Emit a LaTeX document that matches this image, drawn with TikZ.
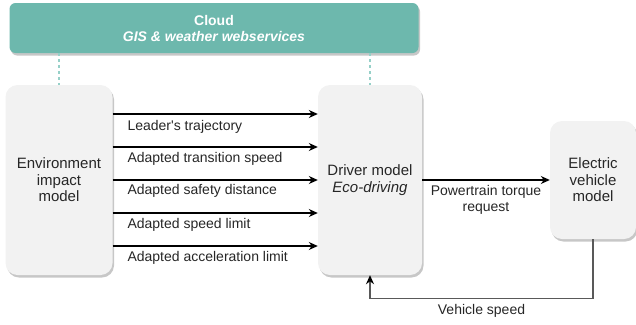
\documentclass[tikz,border=0pt]{standalone}
\usepackage{fontspec}
\setmainfont{Liberation Sans}[Ligatures=TeXOff]
\usetikzlibrary{positioning,arrows.meta,shadows}
\definecolor{cloudteal}{HTML}{6DB8AD}
\definecolor{dashteal}{HTML}{96D0C8}
\definecolor{boxgray}{HTML}{F2F2F2}

\begin{document}
\begin{tikzpicture}[
    x=1pt, y=-1pt,
    cloudnode/.style={rectangle, rounded corners=6pt, fill=cloudteal, text=white, align=center, font=\fontsize{14}{16}\selectfont\bfseries, drop shadow={shadow xshift=1.5pt, shadow yshift=-2.5pt, fill=black, opacity=0.22}},
    modelnode/.style={rectangle, rounded corners=12pt, fill=boxgray, text=black!85, align=center, font=\fontsize{15}{16.5}\selectfont, drop shadow={shadow xshift=1.5pt, shadow yshift=-2.5pt, fill=black, opacity=0.22}},
    sigline/.style={-{Stealth[length=9pt,width=8pt,black]}, line width=1.2pt},
    siglabel/.style={font=\fontsize{14}{16}\selectfont, text=black!85},
    cloudlink/.style={draw=dashteal, line width=1.5pt, dash pattern=on 3pt off 3pt},
    ]
    \useasboundingbox (0,0) rectangle (636,324);
    %Nodes
    \node[cloudnode, minimum width=409pt, minimum height=50pt] (cloud) at (214,28) {Cloud\\\textit{GIS \& weather webservices}};
    \node[modelnode, minimum width=107pt, minimum height=190pt] (env) at (59,180) {Environment\\impact\\model};
    \node[modelnode, minimum width=104pt, minimum height=190pt] (driver) at (370,180) {Driver model\\\textit{Eco-driving}};
    \node[modelnode, minimum width=86pt, minimum height=118pt] (ev) at (593,180) {Electric\\vehicle\\model};
    \node[siglabel, anchor=west] (traj)  at (124,127) {Leader's trajectory};
    \node[siglabel, anchor=west] (trans) at (124,159) {Adapted transition speed};
    \node[siglabel, anchor=west] (safe)  at (124,191) {Adapted safety distance};
    \node[siglabel, anchor=west] (limit) at (124,225) {Adapted speed limit};
    \node[siglabel, anchor=west] (accel) at (124,258) {Adapted acceleration limit};

    %Lines
    \draw[cloudlink] (env.north |- cloud.south) -- (env.north);
    \draw[cloudlink] (driver.north |- cloud.south) -- (driver.north);
    \draw[sigline] ([yshift=66pt]env.east) -- ([yshift=66pt]driver.west);
    \draw[sigline] ([yshift=33pt]env.east) -- ([yshift=33pt]driver.west);
    \draw[sigline] (env.east) -- (driver.west);
    \draw[sigline] ([yshift=-33pt]env.east) -- ([yshift=-33pt]driver.west);
    \draw[sigline] ([yshift=-66pt]env.east) -- ([yshift=-66pt]driver.west);
    \draw[sigline] (driver.east) -- (ev.west) node[midway, below=1pt, siglabel, align=center] (torque) {Powertrain torque\\request};
    \draw[sigline, draw=black!65] (ev.south) -- ++(0,59) -| (driver.south) node[pos=0.25, below=2pt, siglabel] (speed) {Vehicle speed};
\end{tikzpicture}
\end{document}
